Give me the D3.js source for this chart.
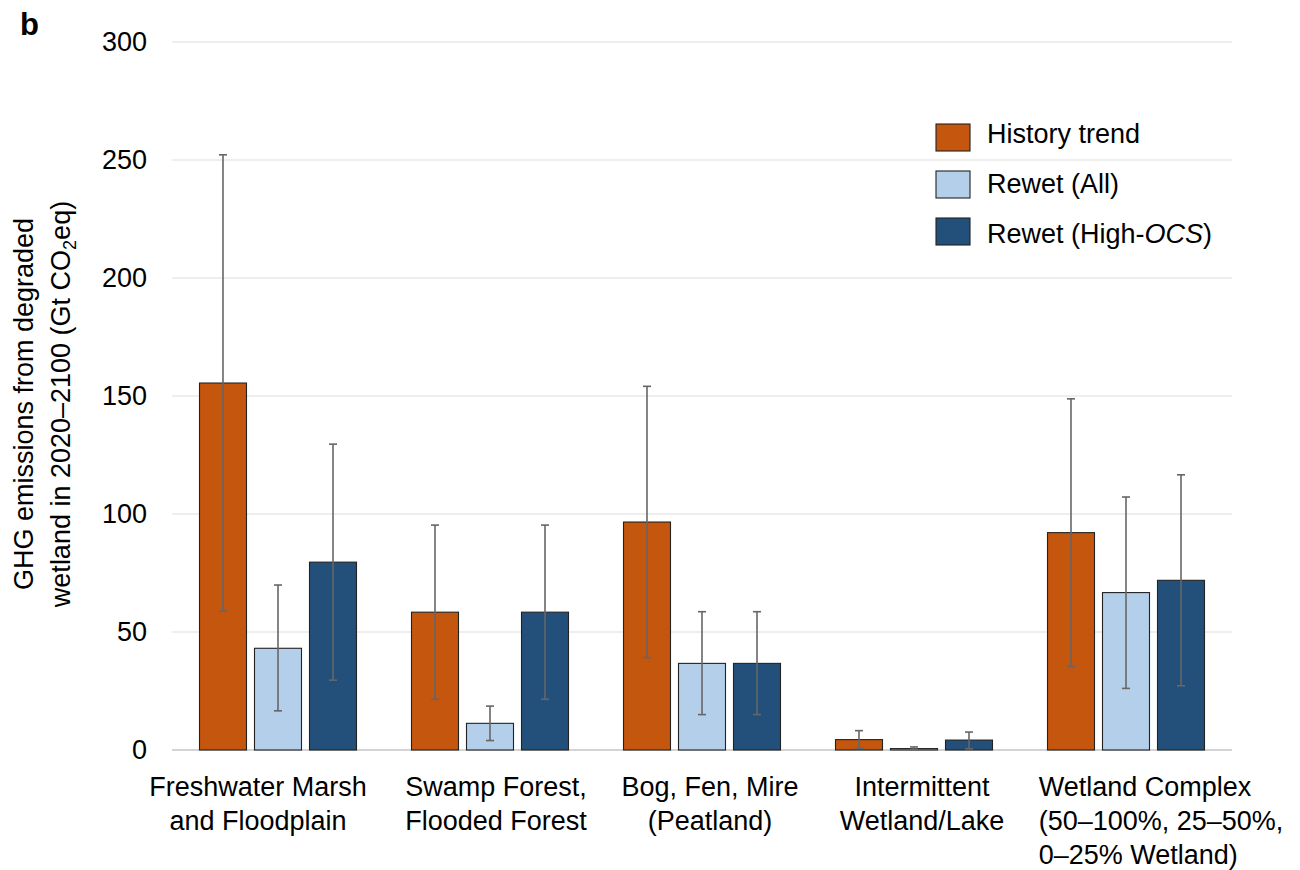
<!DOCTYPE html>
<html>
<head>
<meta charset="utf-8">
<script src="https://cdn.jsdelivr.net/npm/d3@7"></script>
<style>
  html, body { margin: 0; padding: 0; background: #fff; }
  svg { display: block; font-family: "Liberation Sans", Arial, Helvetica, sans-serif; }
</style>
</head>
<body>
<svg id="chart" width="1300" height="870"></svg>
<script>
// Wetland categories (one entry per label line)
const categories = [
  ["Freshwater Marsh", "and Floodplain"],
  ["Swamp Forest,", "Flooded Forest"],
  ["Bog, Fen, Mire", "(Peatland)"],
  ["Intermittent", "Wetland/Lake"],
  ["Wetland Complex", "(50–100%, 25–50%,", "0–25% Wetland)"]
];
const seriesNames = ["History trend", "Rewet (All)", "Rewet (High-OCS)"];

// GHG emissions 2020–2100 (Gt CO2eq): mean, lower and upper bound
const historyTrend     = [155.5, 58.4, 96.6, 4.4, 92.1];
const historyTrendLow  = [58.9, 21.5, 39.1, 0.7, 35.4];
const historyTrendHigh = [252.2, 95.3, 154.1, 8.2, 148.8];

const rewetAll     = [43.1, 11.3, 36.7, 0.6, 66.7];
const rewetAllLow  = [16.6, 4.0, 15.0, 0.4, 26.1];
const rewetAllHigh = [69.9, 18.6, 58.6, 1.3, 107.2];

const rewetHighOCS     = [79.6, 58.4, 36.7, 4.2, 71.9];
const rewetHighOCSLow  = [29.6, 21.5, 15.0, 0.5, 27.2];
const rewetHighOCSHigh = [129.6, 95.3, 58.6, 7.6, 116.6];

const yTicks = [0, 50, 100, 150, 200, 250, 300];

// Horizontal nudge of each category label block and its line alignment
const labelShift = [-20, 6, 8, 8, 35];
const labelAlign = ["middle", "middle", "middle", "middle", "start"];

const colors = ["#c5560e", "#b4cfe9", "#22507a"];

const rows = categories.map((c, i) => ({
  key: i,
  lines: c,
  values: [
    { s: 0, v: historyTrend[i], lo: historyTrendLow[i], hi: historyTrendHigh[i] },
    { s: 1, v: rewetAll[i], lo: rewetAllLow[i], hi: rewetAllHigh[i] },
    { s: 2, v: rewetHighOCS[i], lo: rewetHighOCSLow[i], hi: rewetHighOCSHigh[i] }
  ]
}));

const svg = d3.select("#chart");
const plotLeft = 172, plotRight = 1232, plotTop = 42, plotBottom = 750;
const fs = 27;

const x0 = d3.scaleBand().domain(rows.map(r => r.key)).range([plotLeft, plotRight]).padding(0);
const groupW = 157;
const x1 = d3.scaleBand().domain([0, 1, 2])
  .range([(x0.bandwidth() - groupW) / 2, (x0.bandwidth() + groupW) / 2])
  .paddingInner(8 / 55).paddingOuter(0);
const y = d3.scaleLinear().domain([0, 300]).range([plotBottom, plotTop]);

// Gridlines
svg.append("g").selectAll("line").data(yTicks).join("line")
  .attr("x1", plotLeft).attr("x2", plotRight)
  .attr("y1", d => y(d)).attr("y2", d => y(d))
  .attr("stroke", d => d === 0 ? "#d4d4d4" : "#dedede")
  .attr("stroke-width", d => d === 0 ? 2 : 1.2);

// Y axis tick labels
const yAxis = d3.axisLeft(y).tickValues(yTicks).tickSize(0).tickPadding(0);
const gy = svg.append("g").attr("transform", `translate(147,0)`).call(yAxis);
gy.select(".domain").remove();
gy.selectAll("text").attr("font-size", fs).attr("fill", "#000")
  .attr("font-family", '"Liberation Sans", Arial, sans-serif');

// Bars
const groups = svg.append("g").selectAll("g").data(rows).join("g")
  .attr("transform", d => `translate(${x0(d.key)},0)`);

groups.selectAll("rect").data(d => d.values).join("rect")
  .attr("x", d => x1(d.s))
  .attr("y", d => y(d.v))
  .attr("width", x1.bandwidth())
  .attr("height", d => y(0) - y(d.v))
  .attr("fill", d => colors[d.s])
  .attr("stroke", "#222")
  .attr("stroke-width", 1.1);

// Error bars
const cap = 4;
const eb = groups.selectAll("g.err").data(d => d.values).join("g").attr("class", "err")
  .attr("stroke", "#666").attr("stroke-width", 1.6);
eb.append("line")
  .attr("x1", d => x1(d.s) + x1.bandwidth() / 2).attr("x2", d => x1(d.s) + x1.bandwidth() / 2)
  .attr("y1", d => y(d.lo)).attr("y2", d => y(d.hi));
eb.append("line")
  .attr("x1", d => x1(d.s) + x1.bandwidth() / 2 - cap).attr("x2", d => x1(d.s) + x1.bandwidth() / 2 + cap)
  .attr("y1", d => y(d.hi)).attr("y2", d => y(d.hi));
eb.append("line")
  .attr("x1", d => x1(d.s) + x1.bandwidth() / 2 - cap).attr("x2", d => x1(d.s) + x1.bandwidth() / 2 + cap)
  .attr("y1", d => y(d.lo)).attr("y2", d => y(d.lo));

// Category labels
const catG = svg.append("g").selectAll("g").data(rows).join("g");
catG.each(function(d, i) {
  const g = d3.select(this);
  const cx = x0(d.key) + x0.bandwidth() / 2 + labelShift[i];
  const t = g.append("text").attr("font-size", fs).attr("fill", "#000");
  const tsp = t.selectAll("tspan").data(d.lines).join("tspan")
    .attr("y", (l, j) => 796 + j * 34)
    .text(l => l);
  if (labelAlign[i] === "middle") {
    t.attr("text-anchor", "middle");
    tsp.attr("x", cx);
  } else {
    const widths = [];
    tsp.each(function() { widths.push(this.getComputedTextLength()); });
    const w = d3.max(widths);
    t.attr("text-anchor", "start");
    tsp.attr("x", cx - w / 2);
  }
});

// Y axis title (two lines, rotated)
const titleG = svg.append("g").attr("transform", "translate(0,404) rotate(-90)");
titleG.append("text").attr("x", 0).attr("y", 33).attr("text-anchor", "middle")
  .attr("font-size", fs).text("GHG emissions from degraded");
const t2 = titleG.append("text").attr("x", 0).attr("y", 70).attr("text-anchor", "middle")
  .attr("font-size", fs);
t2.append("tspan").text("wetland in 2020–2100 (Gt CO");
t2.append("tspan").attr("font-size", 18).attr("dy", 6).text("2");
t2.append("tspan").attr("dy", -6).text("eq)");

// Legend
const legend = svg.append("g").attr("transform", "translate(936,0)");
const li = legend.selectAll("g").data(seriesNames).join("g");
li.append("rect").attr("y", (d, i) => 124 + i * 47).attr("width", 34).attr("height", 27)
  .attr("fill", (d, i) => colors[i]).attr("stroke", "#222").attr("stroke-width", 1.1);
li.append("text").attr("x", 51).attr("y", (d, i) => 143 + i * 50).attr("font-size", fs)
  .each(function(d) {
    const t = d3.select(this);
    const m = d.match(/^(.*-)(OCS)(\))$/);
    if (m) {
      t.append("tspan").text(m[1]);
      t.append("tspan").attr("font-style", "italic").text(m[2]);
      t.append("tspan").text(m[3]);
    } else {
      t.text(d);
    }
  });

// Panel letter
svg.append("text").attr("x", 20).attr("y", 35).attr("font-size", 31)
  .attr("font-weight", "bold").text("b");
</script>
</body>
</html>
